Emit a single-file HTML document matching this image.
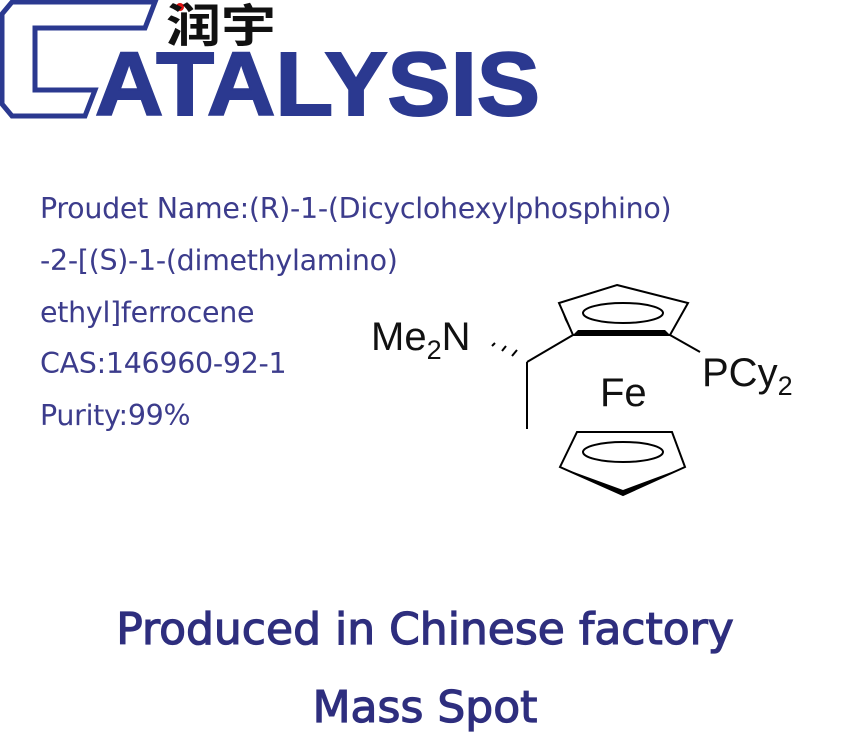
<!DOCTYPE html>
<html><head><meta charset="utf-8"><style>
body{margin:0;width:850px;height:750px;background:#fff;overflow:hidden;position:relative;font-family:"Liberation Sans",sans-serif}
.t{position:absolute;left:40px;font-size:28.5px;color:#3c3c8c;white-space:nowrap;font-family:"DejaVu Sans",sans-serif;letter-spacing:-0.3px}
.b{position:absolute;width:850px;text-align:center;font-size:44px;color:#2e2e7e;font-family:"DejaVu Sans","Liberation Sans",sans-serif;white-space:nowrap;-webkit-text-stroke:1.2px #2e2e7e}
</style></head><body>
<svg width="850" height="750" style="position:absolute;left:0;top:0">
<polygon points="12,2 155,2 145,28 35,28 35,90 95,90 85,116 12,116 2,104 2,14" fill="none" stroke="#2b3990" stroke-width="5"/>
<circle cx="180" cy="7" r="4" fill="#e01010"/>
<text x="166" y="42" font-family="Noto Sans CJK SC,sans-serif" font-weight="bold" font-size="46" fill="#111" textLength="110" lengthAdjust="spacingAndGlyphs">润宇</text>
<text x="95" y="115" font-family="Liberation Sans" font-weight="bold" font-size="90" fill="#2b3990" stroke="#2b3990" stroke-width="2" textLength="445" lengthAdjust="spacingAndGlyphs">ATALYSIS</text>
<g stroke="#000" stroke-width="2" fill="none">
<polygon points="617,285 688,303 670,335 573,335 559,303"/>
<ellipse cx="623" cy="313" rx="40" ry="10"/>
<polygon points="577,432 672,432 685,467 623,495 560,467"/>
<ellipse cx="623" cy="452" rx="40" ry="10"/>
<line x1="573" y1="335" x2="527" y2="362"/>
<line x1="527" y1="362" x2="527" y2="429"/>
<line x1="670" y1="335" x2="700" y2="352"/>
<line x1="492" y1="346" x2="495" y2="343"/><line x1="502" y1="351" x2="506" y2="346"/><line x1="512" y1="356" x2="517" y2="350"/>
</g>
<polygon points="573,335 670,335 665,330 578,330" fill="#000"/>
<polygon points="670,335 688,303 680,318" fill="#000"/>
<polygon points="573,335 559,303 565,320" fill="#000"/>
<polygon points="560,467 623,495 685,467 623,490" fill="#000"/>
<g font-family="Liberation Sans" font-size="40" fill="#111">
<text x="371" y="350">Me<tspan font-size="27" dy="9">2</tspan><tspan dy="-9">N</tspan></text>
<text x="702" y="386">PCy<tspan font-size="27" dy="9">2</tspan></text>
<text x="600" y="406">Fe</text>
</g>
</svg>
<div class="t" style="top:192px">Proudet Name:(R)-1-(Dicyclohexylphosphino)</div>
<div class="t" style="top:244px">-2-[(S)-1-(dimethylamino)</div>
<div class="t" style="top:296px">ethyl]ferrocene</div>
<div class="t" style="top:347px">CAS:146960-92-1</div>
<div class="t" style="top:399px">Purity:99%</div>
<div class="b" style="top:604px;left:0px">Produced in Chinese factory</div>
<div class="b" style="top:682px;left:0px">Mass Spot</div>
</body></html>
